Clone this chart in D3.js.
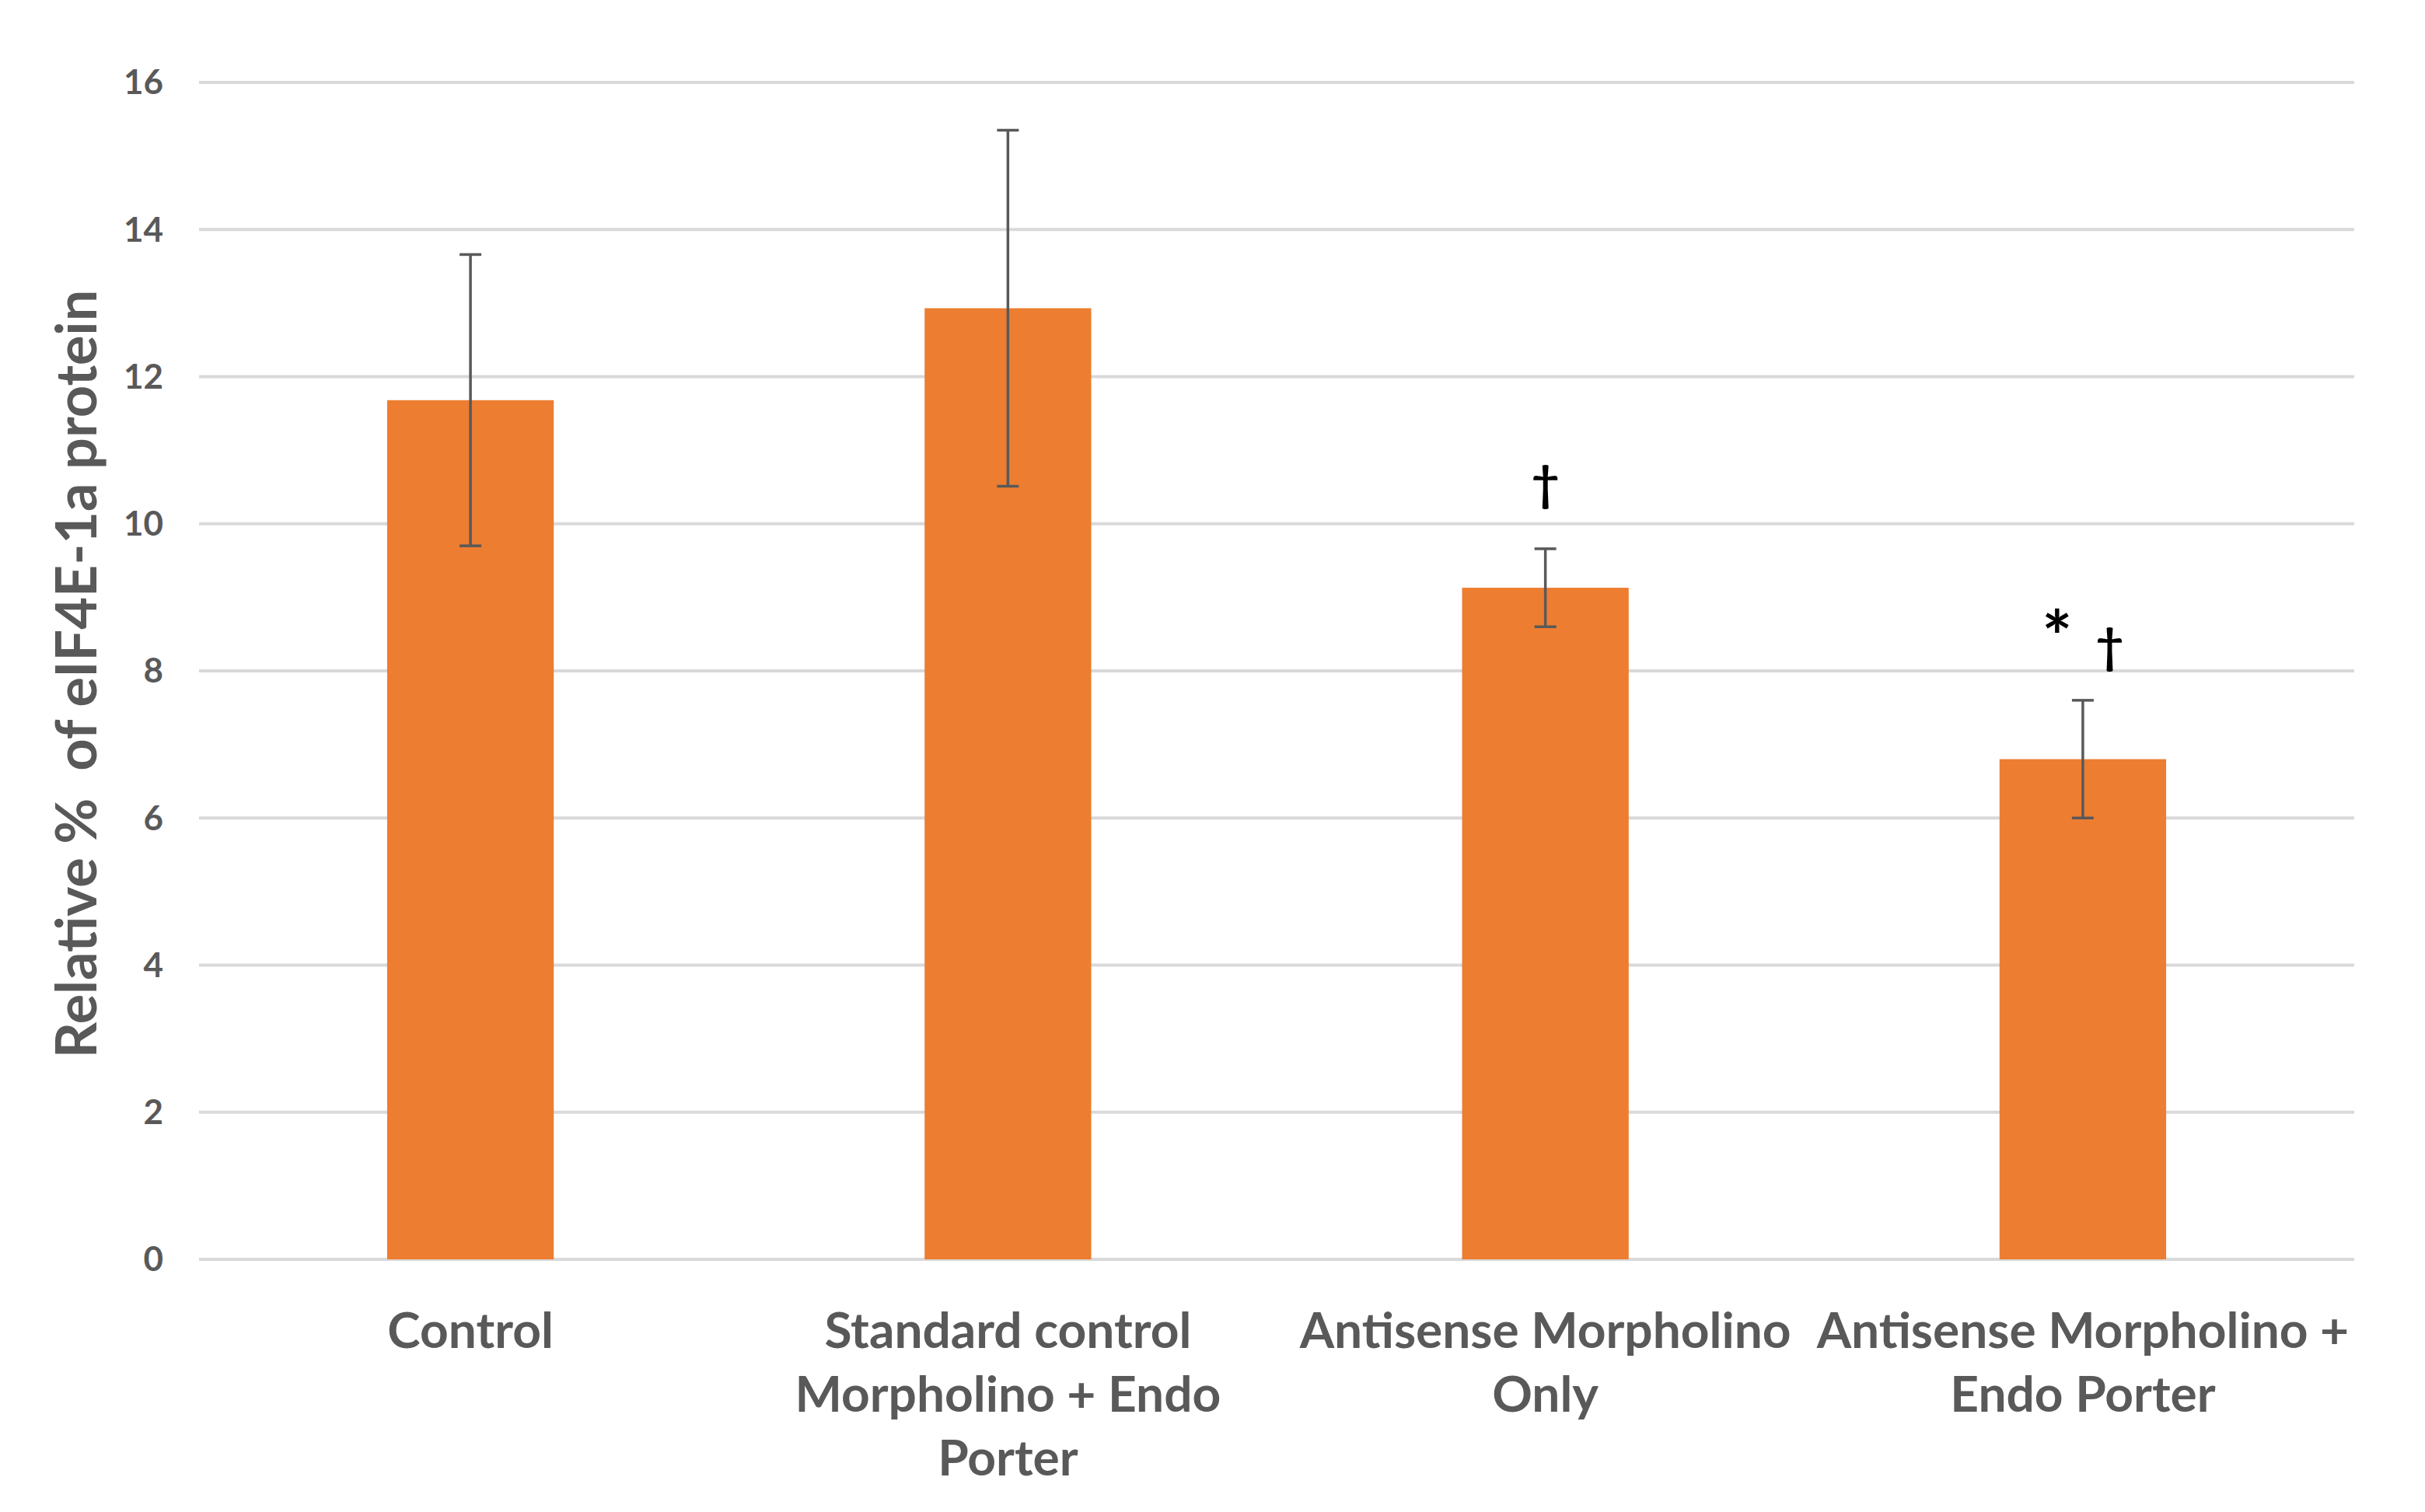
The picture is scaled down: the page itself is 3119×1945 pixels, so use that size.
<!DOCTYPE html>
<html>
<head>
<meta charset="utf-8">
<script src="https://cdn.jsdelivr.net/npm/d3@7"></script>
<style>
  body { margin: 0; background: #fff; }
  text { font-family: Lato, "Open Sans", sans-serif; font-weight: bold; }
</style>
</head>
<body>
<script>
const categories = ["Control", "Standard control Morpholino + Endo Porter", "Antisense Morpholino Only", "Antisense Morpholino + Endo Porter"];
const labelLines = [["Control"], ["Standard control", "Morpholino + Endo", "Porter"], ["Antisense Morpholino", "Only"], ["Antisense Morpholino +", "Endo Porter"]];
const values = [11.68, 12.93, 9.13, 6.80];
const errors = [1.98, 2.42, 0.53, 0.80];
const marks = [[], [], ["†"], ["*", "†"]];
const yTicks = [0, 2, 4, 6, 8, 10, 12, 14, 16];

const width = 3119, height = 1945;
const margin = {left: 256, right: 91, top: 106, bottom: 325};

const svg = d3.select("body").append("svg")
    .attr("width", width)
    .attr("height", height);

const x = d3.scaleBand()
    .domain(categories)
    .range([margin.left, width - margin.right])
    .paddingInner(0.69)
    .paddingOuter(0.35);

const y = d3.scaleLinear()
    .domain([0, 16])
    .range([height - margin.bottom, margin.top]);

// gridlines
svg.append("g")
  .selectAll("line")
  .data(yTicks)
  .join("line")
    .attr("x1", margin.left)
    .attr("x2", width - margin.right)
    .attr("y1", d => y(d))
    .attr("y2", d => y(d))
    .attr("stroke", "#d9d9d9")
    .attr("stroke-width", 4);

// y tick labels
svg.append("g")
  .selectAll("text")
  .data(yTicks)
  .join("text")
    .attr("x", margin.left - 46)
    .attr("y", d => y(d))
    .attr("dy", "0.35em")
    .attr("text-anchor", "end")
    .attr("font-size", 44)
    .attr("fill", "#595959")
    .text(d => d);

// bars
svg.append("g")
  .selectAll("rect")
  .data(categories)
  .join("rect")
    .attr("x", d => x(d))
    .attr("width", x.bandwidth())
    .attr("y", (d, i) => y(values[i]))
    .attr("height", (d, i) => y(0) - y(values[i]))
    .attr("fill", "#ed7d31");

// error bars
const eb = svg.append("g")
    .attr("stroke", "#595959")
    .attr("stroke-width", 3.5);
categories.forEach((c, i) => {
  const cx = x(c) + x.bandwidth() / 2;
  const hi = y(values[i] + errors[i]), lo = y(values[i] - errors[i]);
  eb.append("line").attr("x1", cx).attr("x2", cx).attr("y1", hi).attr("y2", lo);
  eb.append("line").attr("x1", cx - 14).attr("x2", cx + 14).attr("y1", hi).attr("y2", hi);
  eb.append("line").attr("x1", cx - 14).attr("x2", cx + 14).attr("y1", lo).attr("y2", lo);
});

// significance marks
svg.append("g")
  .selectAll("text")
  .data(categories)
  .join("text")
    .attr("x", d => x(d) + x.bandwidth() / 2)
    .attr("y", (d, i) => y(values[i] + errors[i]) - 62)
    .attr("text-anchor", "middle")
    .attr("font-family", "DejaVu Sans")
    .attr("font-weight", "normal")
    .attr("fill", "#000")
  .selectAll("tspan")
  .data((d, i) => marks[i])
  .join("tspan")
    .attr("font-size", m => m === "*" ? 92 : 62)
    .attr("dy", m => m === "*" ? 14 : 0)
    .attr("dx", (m, j) => j > 0 ? 30 : 0)
    .text(m => m);

// category labels
svg.append("g")
  .selectAll("text")
  .data(categories)
  .join("text")
    .attr("text-anchor", "middle")
    .attr("font-size", 64)
    .attr("fill", "#595959")
    .attr("transform", d => `translate(${x(d) + x.bandwidth() / 2},${y(0) + 114})`)
  .selectAll("tspan")
  .data((d, i) => labelLines[i])
  .join("tspan")
    .attr("x", 0)
    .attr("y", (d, j) => j * 82)
    .text(d => d);

// y axis title
svg.append("text")
    .attr("transform", `translate(124,${(y(0) + y(16)) / 2 + 4}) rotate(-90)`)
    .attr("text-anchor", "middle")
    .attr("font-size", 72)
    .attr("fill", "#595959")
    .attr("xml:space", "preserve")
    .style("white-space", "pre")
    .text("Relative %  of eIF4E-1a protein");
</script>
</body>
</html>
